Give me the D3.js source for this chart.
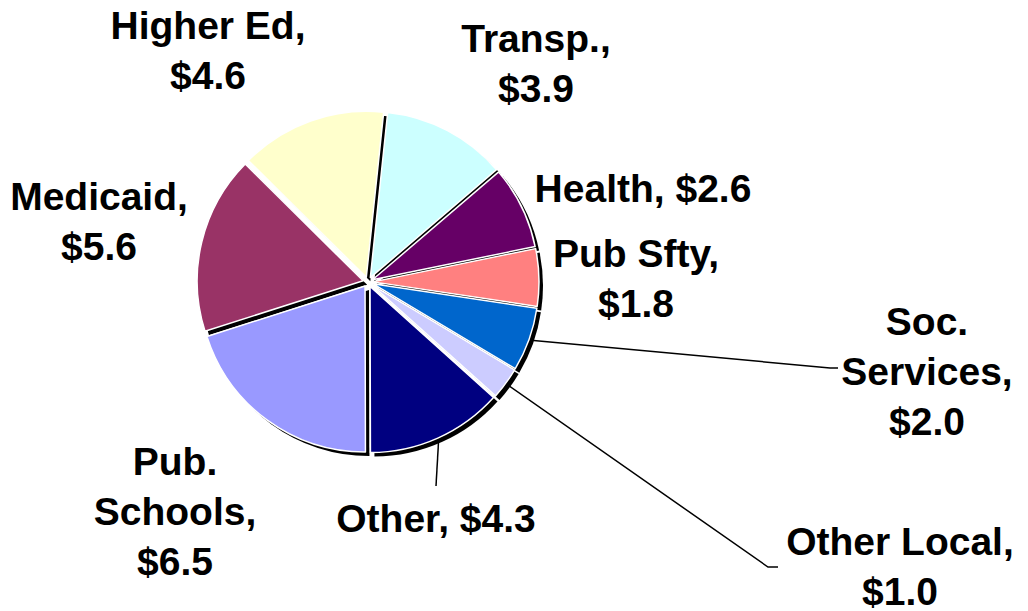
<!DOCTYPE html>
<html>
<head>
<meta charset="utf-8">
<script src="https://cdn.jsdelivr.net/npm/d3@7"></script>
<style>
  body { margin: 0; background: #fff; }
  svg { display: block; }
  text { font-family: "Liberation Sans", Arial, sans-serif; font-weight: bold; font-size: 39px; fill: #000; }
</style>
</head>
<body>
<div id="chart"></div>
<script>
// spending by area, billions
const categories = ["Transp.", "Health", "Pub Sfty", "Soc. Services", "Other Local", "Other", "Pub. Schools", "Medicaid", "Higher Ed"];
const values = [3.9, 2.6, 1.8, 2.0, 1.0, 4.3, 6.5, 5.6, 4.6];
const colors = ["#CCFFFF", "#660066", "#FF8080", "#0066CC", "#CCCCFF", "#000080", "#9999FF", "#993366", "#FFFFCC"];
// label text lines, value line gets appended
const labelText = [["Transp.,"], ["Health,"], ["Pub Sfty,"], ["Soc.", "Services,"], ["Other Local,"], ["Other,"], ["Pub.", "Schools,"], ["Medicaid,"], ["Higher Ed,"]];

const width = 1028, height = 611;
const cx = 368, cy = 282, radius = 166;
const explode = 5;
const lineH = 50;

// where each label block sits: center x, first baseline, value on same line?
const labelPos = {
  "Transp.": {x: 536, y: 52, inline: false},
  "Health": {x: 643, y: 202, inline: true},
  "Pub Sfty": {x: 636, y: 267, inline: false},
  "Soc. Services": {x: 927, y: 335, inline: false},
  "Other Local": {x: 900, y: 555, inline: false},
  "Other": {x: 436, y: 532, inline: true},
  "Pub. Schools": {x: 175, y: 475, inline: false},
  "Medicaid": {x: 99, y: 210, inline: false},
  "Higher Ed": {x: 208, y: 39, inline: false}
};
// leader lines: end points near labels
const leaders = {
  "Soc. Services": [[830, 368], [838, 368]],
  "Other Local": [[768, 567], [778, 567]],
  "Other": [[436, 486]]
};

const data = categories.map((c, i) => ({name: c, value: values[i], color: colors[i], lines: labelText[i]}));

const svg = d3.select("#chart").append("svg")
  .attr("width", width)
  .attr("height", height);

const pie = d3.pie()
  .value(d => d.value)
  .sort(null)
  .startAngle(6 * Math.PI / 180)
  .endAngle(6 * Math.PI / 180 + 2 * Math.PI);

const arcs = pie(data);
const arc = d3.arc().innerRadius(0).outerRadius(radius);

function offset(d, r) {
  const a = (d.startAngle + d.endAngle) / 2;
  return [Math.sin(a) * r, -Math.cos(a) * r];
}

const g = svg.append("g").attr("transform", `translate(${cx},${cy})`);

// shadows first
g.selectAll("path.shadow")
  .data(arcs)
  .join("path")
  .attr("class", "shadow")
  .attr("transform", d => {
    const [dx, dy] = offset(d, explode);
    return `translate(${dx + 4},${dy + 4})`;
  })
  .attr("d", arc)
  .attr("fill", "#000");

g.selectAll("path.slice")
  .data(arcs)
  .join("path")
  .attr("class", "slice")
  .attr("transform", d => {
    const [dx, dy] = offset(d, explode);
    return `translate(${dx},${dy})`;
  })
  .attr("d", arc)
  .attr("fill", d => d.data.color)
  .attr("stroke", "#fff")
  .attr("stroke-width", 1.5)
  .attr("stroke-linejoin", "round");

// leader lines
arcs.forEach(d => {
  const ends = leaders[d.data.name];
  if (!ends) return;
  const [sx, sy] = offset(d, radius + 7);
  const pts = [[cx + sx, cy + sy]].concat(ends);
  svg.append("path")
    .attr("d", d3.line()(pts))
    .attr("fill", "none")
    .attr("stroke", "#000")
    .attr("stroke-width", 1.5);
});

// labels
arcs.forEach(d => {
  const p = labelPos[d.data.name];
  const val = "$" + d3.format(".1f")(d.data.value);
  let lines = d.data.lines.slice();
  if (p.inline) lines[lines.length - 1] += " " + val;
  else lines.push(val);
  const t = svg.append("text")
    .attr("text-anchor", "middle")
    .attr("x", p.x)
    .attr("y", p.y);
  lines.forEach((l, i) => {
    t.append("tspan")
      .attr("x", p.x)
      .attr("dy", i === 0 ? 0 : lineH)
      .text(l);
  });
});
</script>
</body>
</html>
